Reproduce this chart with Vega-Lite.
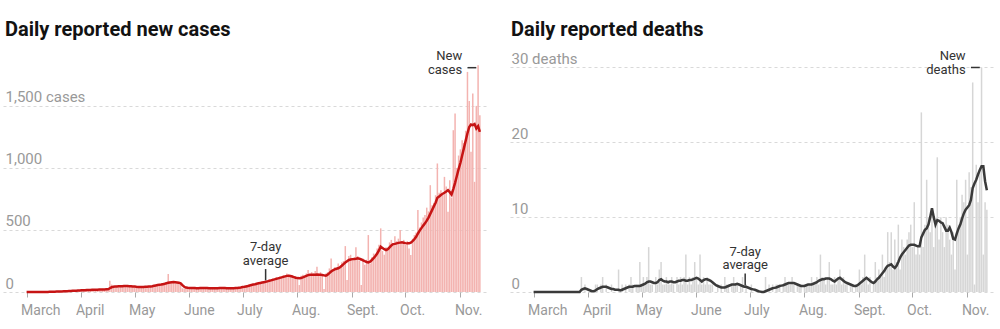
{
"$schema": "https://vega.github.io/schema/vega-lite/v6.json",
"padding": {"left": 3, "top": 20, "right": 6, "bottom": 4},
"spacing": 23,
"config": {"view": {"stroke": null}, "font": "Roboto"},
"data": {"values": [
{"date":"2020-03-01","cases":0,"cases_avg":0,"deaths":0,"deaths_avg":0},
{"date":"2020-03-02","cases":0,"cases_avg":0,"deaths":0,"deaths_avg":0},
{"date":"2020-03-03","cases":0,"cases_avg":0,"deaths":0,"deaths_avg":0},
{"date":"2020-03-04","cases":0,"cases_avg":0,"deaths":0,"deaths_avg":0},
{"date":"2020-03-05","cases":0,"cases_avg":0,"deaths":0,"deaths_avg":0},
{"date":"2020-03-06","cases":0,"cases_avg":0,"deaths":0,"deaths_avg":0},
{"date":"2020-03-07","cases":0,"cases_avg":0,"deaths":0,"deaths_avg":0},
{"date":"2020-03-08","cases":0,"cases_avg":0,"deaths":0,"deaths_avg":0},
{"date":"2020-03-09","cases":0,"cases_avg":0,"deaths":0,"deaths_avg":0},
{"date":"2020-03-10","cases":0,"cases_avg":0,"deaths":0,"deaths_avg":0},
{"date":"2020-03-11","cases":1,"cases_avg":1,"deaths":0,"deaths_avg":0},
{"date":"2020-03-12","cases":0,"cases_avg":1,"deaths":0,"deaths_avg":0},
{"date":"2020-03-13","cases":2,"cases_avg":1,"deaths":0,"deaths_avg":0},
{"date":"2020-03-14","cases":3,"cases_avg":2,"deaths":0,"deaths_avg":0},
{"date":"2020-03-15","cases":1,"cases_avg":2,"deaths":0,"deaths_avg":0},
{"date":"2020-03-16","cases":4,"cases_avg":3,"deaths":0,"deaths_avg":0},
{"date":"2020-03-17","cases":2,"cases_avg":3,"deaths":0,"deaths_avg":0},
{"date":"2020-03-18","cases":5,"cases_avg":4,"deaths":0,"deaths_avg":0},
{"date":"2020-03-19","cases":3,"cases_avg":4,"deaths":0,"deaths_avg":0},
{"date":"2020-03-20","cases":6,"cases_avg":5,"deaths":0,"deaths_avg":0},
{"date":"2020-03-21","cases":5,"cases_avg":5,"deaths":0,"deaths_avg":0},
{"date":"2020-03-22","cases":8,"cases_avg":6,"deaths":0,"deaths_avg":0},
{"date":"2020-03-23","cases":4,"cases_avg":6,"deaths":0,"deaths_avg":0},
{"date":"2020-03-24","cases":9,"cases_avg":7,"deaths":0,"deaths_avg":0},
{"date":"2020-03-25","cases":7,"cases_avg":8,"deaths":0,"deaths_avg":0},
{"date":"2020-03-26","cases":12,"cases_avg":9,"deaths":0,"deaths_avg":0},
{"date":"2020-03-27","cases":10,"cases_avg":10,"deaths":0,"deaths_avg":0},
{"date":"2020-03-28","cases":8,"cases_avg":10,"deaths":2,"deaths_avg":0.3},
{"date":"2020-03-29","cases":14,"cases_avg":11,"deaths":0,"deaths_avg":0.4},
{"date":"2020-03-30","cases":11,"cases_avg":12,"deaths":1,"deaths_avg":0.5},
{"date":"2020-03-31","cases":16,"cases_avg":13,"deaths":0,"deaths_avg":0.4},
{"date":"2020-04-01","cases":15,"cases_avg":14,"deaths":0,"deaths_avg":0.3},
{"date":"2020-04-02","cases":18,"cases_avg":15,"deaths":0,"deaths_avg":0.2},
{"date":"2020-04-03","cases":12,"cases_avg":15,"deaths":0,"deaths_avg":0.1},
{"date":"2020-04-04","cases":20,"cases_avg":16,"deaths":0,"deaths_avg":0.1},
{"date":"2020-04-05","cases":16,"cases_avg":17,"deaths":1,"deaths_avg":0.2},
{"date":"2020-04-06","cases":14,"cases_avg":17,"deaths":1,"deaths_avg":0.4},
{"date":"2020-04-07","cases":22,"cases_avg":18,"deaths":0,"deaths_avg":0.5},
{"date":"2020-04-08","cases":19,"cases_avg":18,"deaths":1,"deaths_avg":0.6},
{"date":"2020-04-09","cases":17,"cases_avg":19,"deaths":2,"deaths_avg":0.7},
{"date":"2020-04-10","cases":24,"cases_avg":19,"deaths":0,"deaths_avg":0.7},
{"date":"2020-04-11","cases":18,"cases_avg":20,"deaths":1,"deaths_avg":0.7},
{"date":"2020-04-12","cases":21,"cases_avg":20,"deaths":0,"deaths_avg":0.6},
{"date":"2020-04-13","cases":26,"cases_avg":21,"deaths":0,"deaths_avg":0.5},
{"date":"2020-04-14","cases":16,"cases_avg":21,"deaths":1,"deaths_avg":0.4},
{"date":"2020-04-15","cases":23,"cases_avg":22,"deaths":0,"deaths_avg":0.4},
{"date":"2020-04-16","cases":25,"cases_avg":22,"deaths":0,"deaths_avg":0.3},
{"date":"2020-04-17","cases":91,"cases_avg":30,"deaths":0,"deaths_avg":0.3},
{"date":"2020-04-18","cases":60,"cases_avg":38,"deaths":3,"deaths_avg":0.3},
{"date":"2020-04-19","cases":48,"cases_avg":42,"deaths":0,"deaths_avg":0.2},
{"date":"2020-04-20","cases":40,"cases_avg":44,"deaths":1,"deaths_avg":0.3},
{"date":"2020-04-21","cases":52,"cases_avg":45,"deaths":0,"deaths_avg":0.4},
{"date":"2020-04-22","cases":38,"cases_avg":46,"deaths":1,"deaths_avg":0.5},
{"date":"2020-04-23","cases":50,"cases_avg":46,"deaths":0,"deaths_avg":0.6},
{"date":"2020-04-24","cases":44,"cases_avg":47,"deaths":1,"deaths_avg":0.7},
{"date":"2020-04-25","cases":55,"cases_avg":48,"deaths":2,"deaths_avg":0.7},
{"date":"2020-04-26","cases":47,"cases_avg":49,"deaths":1,"deaths_avg":0.7},
{"date":"2020-04-27","cases":42,"cases_avg":48,"deaths":0,"deaths_avg":0.8},
{"date":"2020-04-28","cases":53,"cases_avg":47,"deaths":1,"deaths_avg":0.8},
{"date":"2020-04-29","cases":40,"cases_avg":46,"deaths":1,"deaths_avg":0.8},
{"date":"2020-04-30","cases":47,"cases_avg":45,"deaths":4,"deaths_avg":0.8},
{"date":"2020-05-01","cases":38,"cases_avg":44,"deaths":1,"deaths_avg":0.9},
{"date":"2020-05-02","cases":46,"cases_avg":42,"deaths":2,"deaths_avg":1.0},
{"date":"2020-05-03","cases":35,"cases_avg":41,"deaths":1,"deaths_avg":1.1},
{"date":"2020-05-04","cases":44,"cases_avg":40,"deaths":2,"deaths_avg":1.3},
{"date":"2020-05-05","cases":40,"cases_avg":40,"deaths":6,"deaths_avg":1.4},
{"date":"2020-05-06","cases":48,"cases_avg":41,"deaths":1,"deaths_avg":1.4},
{"date":"2020-05-07","cases":36,"cases_avg":42,"deaths":1,"deaths_avg":1.3},
{"date":"2020-05-08","cases":47,"cases_avg":43,"deaths":0,"deaths_avg":1.2},
{"date":"2020-05-09","cases":45,"cases_avg":44,"deaths":2,"deaths_avg":1.2},
{"date":"2020-05-10","cases":50,"cases_avg":45,"deaths":1,"deaths_avg":1.3},
{"date":"2020-05-11","cases":52,"cases_avg":47,"deaths":3,"deaths_avg":1.6},
{"date":"2020-05-12","cases":45,"cases_avg":50,"deaths":4,"deaths_avg":1.7},
{"date":"2020-05-13","cases":58,"cases_avg":53,"deaths":1,"deaths_avg":1.5},
{"date":"2020-05-14","cases":60,"cases_avg":56,"deaths":1,"deaths_avg":1.4},
{"date":"2020-05-15","cases":55,"cases_avg":58,"deaths":2,"deaths_avg":1.4},
{"date":"2020-05-16","cases":66,"cases_avg":60,"deaths":1,"deaths_avg":1.3},
{"date":"2020-05-17","cases":62,"cases_avg":63,"deaths":1,"deaths_avg":1.4},
{"date":"2020-05-18","cases":72,"cases_avg":66,"deaths":2,"deaths_avg":1.4},
{"date":"2020-05-19","cases":80,"cases_avg":70,"deaths":1,"deaths_avg":1.3},
{"date":"2020-05-20","cases":145,"cases_avg":74,"deaths":0,"deaths_avg":1.3},
{"date":"2020-05-21","cases":88,"cases_avg":77,"deaths":2,"deaths_avg":1.4},
{"date":"2020-05-22","cases":72,"cases_avg":79,"deaths":1,"deaths_avg":1.5},
{"date":"2020-05-23","cases":85,"cases_avg":80,"deaths":2,"deaths_avg":1.5},
{"date":"2020-05-24","cases":70,"cases_avg":79,"deaths":1,"deaths_avg":1.6},
{"date":"2020-05-25","cases":82,"cases_avg":77,"deaths":2,"deaths_avg":1.6},
{"date":"2020-05-26","cases":68,"cases_avg":75,"deaths":5,"deaths_avg":1.5},
{"date":"2020-05-27","cases":60,"cases_avg":70,"deaths":1,"deaths_avg":1.5},
{"date":"2020-05-28","cases":30,"cases_avg":55,"deaths":2,"deaths_avg":1.6},
{"date":"2020-05-29","cases":28,"cases_avg":42,"deaths":1,"deaths_avg":1.6},
{"date":"2020-05-30","cases":35,"cases_avg":36,"deaths":2,"deaths_avg":1.7},
{"date":"2020-05-31","cases":32,"cases_avg":34,"deaths":4,"deaths_avg":1.8},
{"date":"2020-06-01","cases":30,"cases_avg":33,"deaths":2,"deaths_avg":1.9},
{"date":"2020-06-02","cases":36,"cases_avg":33,"deaths":1,"deaths_avg":1.8},
{"date":"2020-06-03","cases":28,"cases_avg":32,"deaths":5,"deaths_avg":1.6},
{"date":"2020-06-04","cases":35,"cases_avg":32,"deaths":1,"deaths_avg":1.4},
{"date":"2020-06-05","cases":30,"cases_avg":31,"deaths":2,"deaths_avg":1.6},
{"date":"2020-06-06","cases":34,"cases_avg":31,"deaths":1,"deaths_avg":1.7},
{"date":"2020-06-07","cases":29,"cases_avg":32,"deaths":2,"deaths_avg":1.7},
{"date":"2020-06-08","cases":38,"cases_avg":32,"deaths":1,"deaths_avg":1.6},
{"date":"2020-06-09","cases":31,"cases_avg":33,"deaths":1,"deaths_avg":1.5},
{"date":"2020-06-10","cases":35,"cases_avg":33,"deaths":1,"deaths_avg":1.3},
{"date":"2020-06-11","cases":30,"cases_avg":32,"deaths":0,"deaths_avg":1.1},
{"date":"2020-06-12","cases":27,"cases_avg":31,"deaths":0,"deaths_avg":0.9},
{"date":"2020-06-13","cases":36,"cases_avg":31,"deaths":1,"deaths_avg":0.8},
{"date":"2020-06-14","cases":28,"cases_avg":30,"deaths":0,"deaths_avg":0.7},
{"date":"2020-06-15","cases":33,"cases_avg":30,"deaths":1,"deaths_avg":0.6},
{"date":"2020-06-16","cases":31,"cases_avg":31,"deaths":0,"deaths_avg":0.6},
{"date":"2020-06-17","cases":35,"cases_avg":31,"deaths":2,"deaths_avg":0.6},
{"date":"2020-06-18","cases":30,"cases_avg":32,"deaths":1,"deaths_avg":0.7},
{"date":"2020-06-19","cases":37,"cases_avg":32,"deaths":1,"deaths_avg":0.8},
{"date":"2020-06-20","cases":29,"cases_avg":33,"deaths":0,"deaths_avg":0.9},
{"date":"2020-06-21","cases":32,"cases_avg":32,"deaths":1,"deaths_avg":1.0},
{"date":"2020-06-22","cases":34,"cases_avg":31,"deaths":2,"deaths_avg":1.0},
{"date":"2020-06-23","cases":28,"cases_avg":31,"deaths":1,"deaths_avg":1.0},
{"date":"2020-06-24","cases":31,"cases_avg":30,"deaths":1,"deaths_avg":1.1},
{"date":"2020-06-25","cases":33,"cases_avg":30,"deaths":0,"deaths_avg":1.0},
{"date":"2020-06-26","cases":36,"cases_avg":31,"deaths":1,"deaths_avg":0.9},
{"date":"2020-06-27","cases":30,"cases_avg":32,"deaths":2,"deaths_avg":0.8},
{"date":"2020-06-28","cases":38,"cases_avg":33,"deaths":0,"deaths_avg":0.7},
{"date":"2020-06-29","cases":40,"cases_avg":35,"deaths":1,"deaths_avg":0.7},
{"date":"2020-06-30","cases":42,"cases_avg":37,"deaths":0,"deaths_avg":0.6},
{"date":"2020-07-01","cases":45,"cases_avg":40,"deaths":0,"deaths_avg":0.5},
{"date":"2020-07-02","cases":38,"cases_avg":42,"deaths":1,"deaths_avg":0.4},
{"date":"2020-07-03","cases":52,"cases_avg":45,"deaths":0,"deaths_avg":0.35},
{"date":"2020-07-04","cases":50,"cases_avg":48,"deaths":0,"deaths_avg":0.3},
{"date":"2020-07-05","cases":58,"cases_avg":52,"deaths":0,"deaths_avg":0.2},
{"date":"2020-07-06","cases":49,"cases_avg":56,"deaths":0,"deaths_avg":0.1},
{"date":"2020-07-07","cases":66,"cases_avg":60,"deaths":0,"deaths_avg":0.05},
{"date":"2020-07-08","cases":60,"cases_avg":63,"deaths":0,"deaths_avg":0},
{"date":"2020-07-09","cases":75,"cases_avg":67,"deaths":0,"deaths_avg":0},
{"date":"2020-07-10","cases":68,"cases_avg":70,"deaths":2,"deaths_avg":0.1},
{"date":"2020-07-11","cases":80,"cases_avg":73,"deaths":0,"deaths_avg":0.2},
{"date":"2020-07-12","cases":72,"cases_avg":76,"deaths":1,"deaths_avg":0.3},
{"date":"2020-07-13","cases":88,"cases_avg":79,"deaths":0,"deaths_avg":0.4},
{"date":"2020-07-14","cases":95,"cases_avg":82,"deaths":1,"deaths_avg":0.5},
{"date":"2020-07-15","cases":80,"cases_avg":86,"deaths":0,"deaths_avg":0.55},
{"date":"2020-07-16","cases":105,"cases_avg":90,"deaths":1,"deaths_avg":0.6},
{"date":"2020-07-17","cases":88,"cases_avg":94,"deaths":1,"deaths_avg":0.7},
{"date":"2020-07-18","cases":110,"cases_avg":98,"deaths":1,"deaths_avg":0.8},
{"date":"2020-07-19","cases":98,"cases_avg":102,"deaths":0,"deaths_avg":0.85},
{"date":"2020-07-20","cases":120,"cases_avg":106,"deaths":1,"deaths_avg":0.9},
{"date":"2020-07-21","cases":105,"cases_avg":110,"deaths":2,"deaths_avg":1.0},
{"date":"2020-07-22","cases":125,"cases_avg":114,"deaths":1,"deaths_avg":1.1},
{"date":"2020-07-23","cases":118,"cases_avg":118,"deaths":1,"deaths_avg":1.2},
{"date":"2020-07-24","cases":135,"cases_avg":122,"deaths":1,"deaths_avg":1.2},
{"date":"2020-07-25","cases":122,"cases_avg":126,"deaths":2,"deaths_avg":1.2},
{"date":"2020-07-26","cases":150,"cases_avg":130,"deaths":1,"deaths_avg":1.2},
{"date":"2020-07-27","cases":140,"cases_avg":131,"deaths":0,"deaths_avg":1.1},
{"date":"2020-07-28","cases":128,"cases_avg":129,"deaths":1,"deaths_avg":1.0},
{"date":"2020-07-29","cases":135,"cases_avg":125,"deaths":1,"deaths_avg":0.9},
{"date":"2020-07-30","cases":118,"cases_avg":120,"deaths":1,"deaths_avg":0.8},
{"date":"2020-07-31","cases":125,"cases_avg":115,"deaths":0,"deaths_avg":0.8},
{"date":"2020-08-01","cases":105,"cases_avg":112,"deaths":1,"deaths_avg":0.8},
{"date":"2020-08-02","cases":56,"cases_avg":110,"deaths":1,"deaths_avg":0.9},
{"date":"2020-08-03","cases":130,"cases_avg":113,"deaths":1,"deaths_avg":1.0},
{"date":"2020-08-04","cases":140,"cases_avg":118,"deaths":1,"deaths_avg":1.0},
{"date":"2020-08-05","cases":125,"cases_avg":124,"deaths":2,"deaths_avg":1.0},
{"date":"2020-08-06","cases":150,"cases_avg":130,"deaths":1,"deaths_avg":1.1},
{"date":"2020-08-07","cases":177,"cases_avg":136,"deaths":1,"deaths_avg":1.2},
{"date":"2020-08-08","cases":145,"cases_avg":139,"deaths":2,"deaths_avg":1.3},
{"date":"2020-08-09","cases":160,"cases_avg":140,"deaths":1,"deaths_avg":1.5},
{"date":"2020-08-10","cases":150,"cases_avg":139,"deaths":5,"deaths_avg":1.6},
{"date":"2020-08-11","cases":170,"cases_avg":140,"deaths":2,"deaths_avg":1.7},
{"date":"2020-08-12","cases":204,"cases_avg":141,"deaths":2,"deaths_avg":1.7},
{"date":"2020-08-13","cases":150,"cases_avg":140,"deaths":1,"deaths_avg":1.8},
{"date":"2020-08-14","cases":160,"cases_avg":139,"deaths":2,"deaths_avg":1.8},
{"date":"2020-08-15","cases":140,"cases_avg":137,"deaths":4,"deaths_avg":1.8},
{"date":"2020-08-16","cases":24,"cases_avg":134,"deaths":1,"deaths_avg":1.7},
{"date":"2020-08-17","cases":150,"cases_avg":131,"deaths":1,"deaths_avg":1.5},
{"date":"2020-08-18","cases":160,"cases_avg":140,"deaths":2,"deaths_avg":1.4},
{"date":"2020-08-19","cases":190,"cases_avg":152,"deaths":1,"deaths_avg":1.6},
{"date":"2020-08-20","cases":271,"cases_avg":165,"deaths":2,"deaths_avg":1.8},
{"date":"2020-08-21","cases":180,"cases_avg":175,"deaths":3,"deaths_avg":1.9},
{"date":"2020-08-22","cases":200,"cases_avg":182,"deaths":1,"deaths_avg":1.7},
{"date":"2020-08-23","cases":185,"cases_avg":187,"deaths":2,"deaths_avg":1.5},
{"date":"2020-08-24","cases":230,"cases_avg":191,"deaths":1,"deaths_avg":1.3},
{"date":"2020-08-25","cases":210,"cases_avg":200,"deaths":1,"deaths_avg":1.2},
{"date":"2020-08-26","cases":240,"cases_avg":212,"deaths":0,"deaths_avg":1.1},
{"date":"2020-08-27","cases":250,"cases_avg":225,"deaths":1,"deaths_avg":1.0},
{"date":"2020-08-28","cases":370,"cases_avg":238,"deaths":1,"deaths_avg":0.9},
{"date":"2020-08-29","cases":97,"cases_avg":248,"deaths":0,"deaths_avg":0.8},
{"date":"2020-08-30","cases":290,"cases_avg":258,"deaths":1,"deaths_avg":0.8},
{"date":"2020-08-31","cases":300,"cases_avg":262,"deaths":1,"deaths_avg":0.9},
{"date":"2020-09-01","cases":260,"cases_avg":265,"deaths":3,"deaths_avg":1.1},
{"date":"2020-09-02","cases":280,"cases_avg":266,"deaths":1,"deaths_avg":1.3},
{"date":"2020-09-03","cases":360,"cases_avg":268,"deaths":2,"deaths_avg":1.5},
{"date":"2020-09-04","cases":290,"cases_avg":271,"deaths":5,"deaths_avg":1.7},
{"date":"2020-09-05","cases":250,"cases_avg":268,"deaths":2,"deaths_avg":1.9},
{"date":"2020-09-06","cases":56,"cases_avg":262,"deaths":1,"deaths_avg":1.7},
{"date":"2020-09-07","cases":270,"cases_avg":255,"deaths":2,"deaths_avg":1.5},
{"date":"2020-09-08","cases":220,"cases_avg":248,"deaths":0,"deaths_avg":1.3},
{"date":"2020-09-09","cases":260,"cases_avg":242,"deaths":1,"deaths_avg":1.2},
{"date":"2020-09-10","cases":459,"cases_avg":239,"deaths":4,"deaths_avg":1.4},
{"date":"2020-09-11","cases":230,"cases_avg":245,"deaths":2,"deaths_avg":1.7},
{"date":"2020-09-12","cases":280,"cases_avg":258,"deaths":3,"deaths_avg":1.9},
{"date":"2020-09-13","cases":310,"cases_avg":272,"deaths":2,"deaths_avg":2.2},
{"date":"2020-09-14","cases":300,"cases_avg":290,"deaths":5,"deaths_avg":2.5},
{"date":"2020-09-15","cases":350,"cases_avg":310,"deaths":2,"deaths_avg":2.8},
{"date":"2020-09-16","cases":380,"cases_avg":335,"deaths":3,"deaths_avg":3.2},
{"date":"2020-09-17","cases":513,"cases_avg":365,"deaths":8,"deaths_avg":3.5},
{"date":"2020-09-18","cases":330,"cases_avg":355,"deaths":4,"deaths_avg":3.6},
{"date":"2020-09-19","cases":300,"cases_avg":345,"deaths":8,"deaths_avg":3.7},
{"date":"2020-09-20","cases":360,"cases_avg":338,"deaths":3,"deaths_avg":3.4},
{"date":"2020-09-21","cases":340,"cases_avg":345,"deaths":7,"deaths_avg":3.2},
{"date":"2020-09-22","cases":400,"cases_avg":360,"deaths":4,"deaths_avg":3.5},
{"date":"2020-09-23","cases":420,"cases_avg":375,"deaths":9,"deaths_avg":4.0},
{"date":"2020-09-24","cases":380,"cases_avg":386,"deaths":3,"deaths_avg":4.6},
{"date":"2020-09-25","cases":450,"cases_avg":388,"deaths":7,"deaths_avg":5.0},
{"date":"2020-09-26","cases":410,"cases_avg":392,"deaths":6,"deaths_avg":5.3},
{"date":"2020-09-27","cases":430,"cases_avg":396,"deaths":5,"deaths_avg":5.6},
{"date":"2020-09-28","cases":499,"cases_avg":398,"deaths":7,"deaths_avg":5.9},
{"date":"2020-09-29","cases":390,"cases_avg":400,"deaths":8,"deaths_avg":6.2},
{"date":"2020-09-30","cases":420,"cases_avg":397,"deaths":9,"deaths_avg":6.3},
{"date":"2020-10-01","cases":380,"cases_avg":394,"deaths":6,"deaths_avg":6.3},
{"date":"2020-10-02","cases":410,"cases_avg":392,"deaths":12,"deaths_avg":6.3},
{"date":"2020-10-03","cases":350,"cases_avg":392,"deaths":5,"deaths_avg":6.2},
{"date":"2020-10-04","cases":298,"cases_avg":398,"deaths":6,"deaths_avg":6.1},
{"date":"2020-10-05","cases":430,"cases_avg":410,"deaths":5,"deaths_avg":6.1},
{"date":"2020-10-06","cases":460,"cases_avg":425,"deaths":24,"deaths_avg":7.3},
{"date":"2020-10-07","cases":480,"cases_avg":445,"deaths":6,"deaths_avg":7.8},
{"date":"2020-10-08","cases":660,"cases_avg":470,"deaths":9,"deaths_avg":8.3},
{"date":"2020-10-09","cases":520,"cases_avg":495,"deaths":15,"deaths_avg":8.5},
{"date":"2020-10-10","cases":560,"cases_avg":515,"deaths":10,"deaths_avg":9.0},
{"date":"2020-10-11","cases":600,"cases_avg":535,"deaths":8,"deaths_avg":10.0},
{"date":"2020-10-12","cases":620,"cases_avg":553,"deaths":11,"deaths_avg":11.2},
{"date":"2020-10-13","cases":680,"cases_avg":575,"deaths":6,"deaths_avg":10.0},
{"date":"2020-10-14","cases":650,"cases_avg":600,"deaths":9,"deaths_avg":9.0},
{"date":"2020-10-15","cases":861,"cases_avg":630,"deaths":18,"deaths_avg":9.6},
{"date":"2020-10-16","cases":700,"cases_avg":660,"deaths":7,"deaths_avg":9.5},
{"date":"2020-10-17","cases":720,"cases_avg":690,"deaths":10,"deaths_avg":9.3},
{"date":"2020-10-18","cases":780,"cases_avg":720,"deaths":8,"deaths_avg":9.2},
{"date":"2020-10-19","cases":1036,"cases_avg":760,"deaths":6,"deaths_avg":8.7},
{"date":"2020-10-20","cases":800,"cases_avg":770,"deaths":10,"deaths_avg":8.2},
{"date":"2020-10-21","cases":820,"cases_avg":782,"deaths":9,"deaths_avg":8.2},
{"date":"2020-10-22","cases":780,"cases_avg":792,"deaths":7,"deaths_avg":8.6},
{"date":"2020-10-23","cases":928,"cases_avg":800,"deaths":5,"deaths_avg":8.0},
{"date":"2020-10-24","cases":850,"cases_avg":810,"deaths":8,"deaths_avg":7.1},
{"date":"2020-10-25","cases":647,"cases_avg":821,"deaths":3,"deaths_avg":7.0},
{"date":"2020-10-26","cases":900,"cases_avg":805,"deaths":15,"deaths_avg":7.8},
{"date":"2020-10-27","cases":760,"cases_avg":786,"deaths":9,"deaths_avg":8.5},
{"date":"2020-10-28","cases":1304,"cases_avg":830,"deaths":10,"deaths_avg":9.0},
{"date":"2020-10-29","cases":1439,"cases_avg":880,"deaths":13,"deaths_avg":9.8},
{"date":"2020-10-30","cases":1000,"cases_avg":935,"deaths":12,"deaths_avg":10.5},
{"date":"2020-10-31","cases":1100,"cases_avg":990,"deaths":15,"deaths_avg":11.0},
{"date":"2020-11-01","cases":1150,"cases_avg":1040,"deaths":5,"deaths_avg":11.3},
{"date":"2020-11-02","cases":1224,"cases_avg":1100,"deaths":16,"deaths_avg":11.6},
{"date":"2020-11-03","cases":1200,"cases_avg":1160,"deaths":14,"deaths_avg":12.3},
{"date":"2020-11-04","cases":1300,"cases_avg":1220,"deaths":28,"deaths_avg":13.9},
{"date":"2020-11-05","cases":1774,"cases_avg":1280,"deaths":1,"deaths_avg":14.5},
{"date":"2020-11-06","cases":1540,"cases_avg":1330,"deaths":17,"deaths_avg":15.0},
{"date":"2020-11-07","cases":1130,"cases_avg":1350,"deaths":12,"deaths_avg":15.7},
{"date":"2020-11-08","cases":1600,"cases_avg":1345,"deaths":16,"deaths_avg":16.3},
{"date":"2020-11-09","cases":888,"cases_avg":1353,"deaths":30,"deaths_avg":16.8},
{"date":"2020-11-10","cases":1500,"cases_avg":1318,"deaths":5,"deaths_avg":16.8},
{"date":"2020-11-11","cases":1828,"cases_avg":1337,"deaths":12,"deaths_avg":14.8},
{"date":"2020-11-12","cases":1425,"cases_avg":1291,"deaths":11,"deaths_avg":13.6}
]},
"hconcat": [
{
"width": 484, "height": 232,
"title": {"text": "Daily reported new cases", "anchor": "start", "fontSize": 20, "fontWeight": "bold", "font": "Roboto", "color": "#121212", "offset": 10, "dx": 2},
"layer": [
{"mark": {"type": "bar", "color": "#f3b3b0", "size": 1.5},
 "encoding": {
  "x": {"field": "date", "type": "temporal", "title": null,
   "scale": {"type": "utc", "domain": [{"year": 2020, "month": 2, "date": 19, "hours": 12, "utc": true}, {"year": 2020, "month": 11, "date": 13, "hours": 5, "utc": true}]},
   "axis": {"title": null, "domain": false, "grid": false, "ticks": true, "tickSize": 5, "tickColor": "#aaa",
    "values": [{"year":2020,"month":3,"date":1,"utc":true},{"year":2020,"month":4,"date":1,"utc":true},{"year":2020,"month":5,"date":1,"utc":true},{"year":2020,"month":6,"date":1,"utc":true},{"year":2020,"month":7,"date":1,"utc":true},{"year":2020,"month":8,"date":1,"utc":true},{"year":2020,"month":9,"date":1,"utc":true},{"year":2020,"month":10,"date":1,"utc":true},{"year":2020,"month":11,"date":1,"utc":true}],
    "labelExpr": "['March','April','May','June','July','Aug.','Sept.','Oct.','Nov.'][utcmonth(datum.value)-2]",
    "labelAlign": "left", "labelOffset": -6, "labelPadding": 6, "labelFontSize": 14, "labelColor": "#999", "labelFont": "Roboto", "labelFlush": false, "labelOverlap": false}},
  "y": {"field": "cases", "type": "quantitative", "title": null,
   "scale": {"domain": [0, 1870], "nice": false},
   "axis": {"title": null, "domain": false, "ticks": false, "tickSize": 0, "grid": true, "gridDash": [3, 3], "gridColor": "#d9d9d9",
    "values": [0, 500, 1000, 1500],
    "labelExpr": "datum.value == 1500 ? '1,500 cases' : format(datum.value, ',')",
    "labelAlign": "left", "labelBaseline": "alphabetic", "labelPadding": -2, "labelOffset": -4, "labelFontSize": 15, "labelColor": "#999", "labelFont": "Roboto", "labelFlush": false, "labelOverlap": false}}
 }},
{"mark": {"type": "line", "color": "#c61414", "strokeWidth": 2.5},
 "encoding": {"x": {"field": "date", "type": "temporal", "title": null}, "y": {"field": "cases_avg", "type": "quantitative", "title": null}}},
{"data": {"values": [{"date": "2020-07-14", "date2": "2020-07-14", "value": 95, "value2": 185}, {"date": "2020-11-05", "date2": "2020-11-10", "value": 1808, "value2": 1808}]},
 "mark": {"type": "rule", "color": "#333", "strokeWidth": 1.5},
 "encoding": {"x": {"field": "date", "type": "temporal", "title": null}, "x2": {"field": "date2"}, "y": {"field": "value", "type": "quantitative", "title": null}, "y2": {"field": "value2"}}},
{"data": {"values": [{"date": "2020-07-14", "value": 365, "label": "7-day"}, {"date": "2020-07-14", "value": 250, "label": "average"}]},
 "mark": {"type": "text", "align": "center", "baseline": "middle", "fontSize": 13, "color": "#333", "font": "Roboto"},
 "encoding": {"x": {"field": "date", "type": "temporal", "title": null}, "y": {"field": "value", "type": "quantitative", "title": null}, "text": {"field": "label"}}},
{"data": {"values": [{"date": "2020-11-02", "value": 1902, "label": "New"}, {"date": "2020-11-02", "value": 1789, "label": "cases"}]},
 "mark": {"type": "text", "align": "right", "baseline": "middle", "fontSize": 13, "color": "#333", "font": "Roboto"},
 "encoding": {"x": {"field": "date", "type": "temporal", "title": null}, "y": {"field": "value", "type": "quantitative", "title": null}, "text": {"field": "label"}}}
]
},
{
"width": 484, "height": 232,
"title": {"text": "Daily reported deaths", "anchor": "start", "fontSize": 20, "fontWeight": "bold", "font": "Roboto", "color": "#121212", "offset": 10, "dx": 1},
"layer": [
{"mark": {"type": "bar", "color": "#d6d6d6", "size": 1.5},
 "encoding": {
  "x": {"field": "date", "type": "temporal", "title": null,
   "scale": {"type": "utc", "domain": [{"year": 2020, "month": 2, "date": 19, "hours": 12, "utc": true}, {"year": 2020, "month": 11, "date": 13, "hours": 5, "utc": true}]},
   "axis": {"title": null, "domain": false, "grid": false, "ticks": true, "tickSize": 5, "tickColor": "#aaa",
    "values": [{"year":2020,"month":3,"date":1,"utc":true},{"year":2020,"month":4,"date":1,"utc":true},{"year":2020,"month":5,"date":1,"utc":true},{"year":2020,"month":6,"date":1,"utc":true},{"year":2020,"month":7,"date":1,"utc":true},{"year":2020,"month":8,"date":1,"utc":true},{"year":2020,"month":9,"date":1,"utc":true},{"year":2020,"month":10,"date":1,"utc":true},{"year":2020,"month":11,"date":1,"utc":true}],
    "labelExpr": "['March','April','May','June','July','Aug.','Sept.','Oct.','Nov.'][utcmonth(datum.value)-2]",
    "labelAlign": "left", "labelOffset": -6, "labelPadding": 6, "labelFontSize": 14, "labelColor": "#999", "labelFont": "Roboto", "labelFlush": false, "labelOverlap": false}},
  "y": {"field": "deaths", "type": "quantitative", "title": null,
   "scale": {"domain": [0, 31], "nice": false},
   "axis": {"title": null, "domain": false, "ticks": false, "tickSize": 0, "grid": true, "gridDash": [3, 3], "gridColor": "#d9d9d9",
    "values": [0, 10, 20, 30],
    "labelExpr": "datum.value == 30 ? '30 deaths' : format(datum.value, ',')",
    "labelAlign": "left", "labelBaseline": "alphabetic", "labelPadding": -1, "labelOffset": -4, "labelFontSize": 15, "labelColor": "#999", "labelFont": "Roboto", "labelFlush": false, "labelOverlap": false}}
 }},
{"mark": {"type": "line", "color": "#3a3a3a", "strokeWidth": 2.5},
 "encoding": {"x": {"field": "date", "type": "temporal", "title": null}, "y": {"field": "deaths_avg", "type": "quantitative", "title": null}}},
{"data": {"values": [{"date": "2020-06-28T12:00:00Z", "date2": "2020-06-28T12:00:00Z", "value": 0.87, "value2": 2.47}, {"date": "2020-11-03", "date2": "2020-11-08", "value": 30, "value2": 30}]},
 "mark": {"type": "rule", "color": "#333", "strokeWidth": 1.5},
 "encoding": {"x": {"field": "date", "type": "temporal", "title": null}, "x2": {"field": "date2"}, "y": {"field": "value", "type": "quantitative", "title": null}, "y2": {"field": "value2"}}},
{"data": {"values": [{"date": "2020-06-28T12:00:00Z", "value": 5.32, "label": "7-day"}, {"date": "2020-06-28T12:00:00Z", "value": 3.58, "label": "average"}]},
 "mark": {"type": "text", "align": "center", "baseline": "middle", "fontSize": 13, "color": "#333", "font": "Roboto"},
 "encoding": {"x": {"field": "date", "type": "temporal", "title": null}, "y": {"field": "value", "type": "quantitative", "title": null}, "text": {"field": "label"}}},
{"data": {"values": [{"date": "2020-10-31", "value": 31.5, "label": "New"}, {"date": "2020-10-31", "value": 29.7, "label": "deaths"}]},
 "mark": {"type": "text", "align": "right", "baseline": "middle", "fontSize": 13, "color": "#333", "font": "Roboto"},
 "encoding": {"x": {"field": "date", "type": "temporal", "title": null}, "y": {"field": "value", "type": "quantitative", "title": null}, "text": {"field": "label"}}}
]
}
]
}
